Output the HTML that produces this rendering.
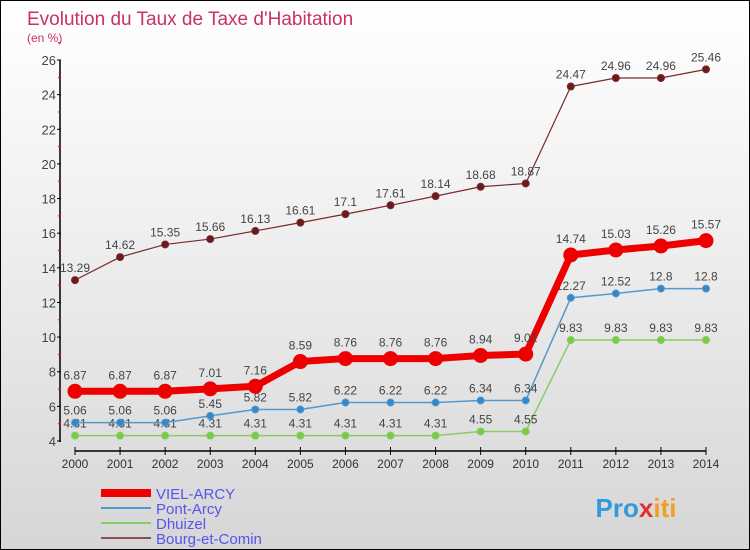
<!DOCTYPE html>
<html><head><meta charset="utf-8"><style>
body{margin:0}
#c{position:relative;width:748px;height:548px;border:1px solid #000;background:linear-gradient(#ffffff,#f0f0f0 40%,#d6d6d6);font-family:"Liberation Sans",sans-serif;overflow:hidden}
</style></head><body>
<div id="c">
<svg id="s" width="748" height="548" xmlns="http://www.w3.org/2000/svg"></svg>
</div>
<script>
const years=[2000,2001,2002,2003,2004,2005,2006,2007,2008,2009,2010,2011,2012,2013,2014];
const vielArcy=[6.87,6.87,6.87,7.01,7.16,8.59,8.76,8.76,8.76,8.94,9.02,14.74,15.03,15.26,15.57];
const pontArcy=[5.06,5.06,5.06,5.45,5.82,5.82,6.22,6.22,6.22,6.34,6.34,12.27,12.52,12.8,12.8];
const dhuizel=[4.31,4.31,4.31,4.31,4.31,4.31,4.31,4.31,4.31,4.55,4.55,9.83,9.83,9.83,9.83];
const bourg=[13.29,14.62,15.35,15.66,16.13,16.61,17.1,17.61,18.14,18.68,18.87,24.47,24.96,24.96,25.46];
const yTicks=[4,6,8,10,12,14,16,18,20,22,24,26];
const seriesNames=["VIEL-ARCY","Pont-Arcy","Dhuizel","Bourg-et-Comin"];

const NS="http://www.w3.org/2000/svg";
const s=document.getElementById('s');
function X(i){return 74+i*(631/(years.length-1));}
function Y(v){return 440-(v-4)*(381/22);}
function el(t,a,p){const e=document.createElementNS(NS,t);for(const k in a)e.setAttribute(k,a[k]);(p||s).appendChild(e);return e;}
function tx(x,y,str,size,fill,anchor){const e=el('text',{x:x,y:y,'font-size':size,fill:fill,'text-anchor':anchor||'middle'});e.textContent=str;return e;}

let t=tx(26,24,"Evolution du Taux de Taxe d'Habitation",19,"#c8325f","start");

t=tx(26,41,"(en %)",12,"#c8325f","start");


// y axis
let ya=el('line',{x1:59,y1:59,x2:59,y2:441,stroke:'#000','stroke-width':1.5});

yTicks.forEach(v=>{
  let l=el('line',{x1:56,y1:Y(v),x2:60,y2:Y(v),stroke:'#000'});
  
  let m=el('line',{x1:57,y1:Y(v+1),x2:60,y2:Y(v+1),stroke:'#e00'});
  
  let tt=tx(55,Y(v)+5,String(v),13,"#444","end");
  
});
// x axis
let xa=el('line',{x1:X(0),y1:450,x2:X(years.length-1),y2:450,stroke:'#000','stroke-width':1.5});

years.forEach((yv,i)=>{
  let l=el('line',{x1:X(i),y1:446,x2:X(i),y2:454,stroke:'#000'});
  
  let tt=tx(X(i),467,String(yv),12,"#333");
  
});

function series(data,color,w,r,dot,name,lblDy){
  const g=el('g',{});
  
  const pl=el('polyline',{points:data.map((v,i)=>X(i)+','+Y(v)).join(' '),fill:'none',stroke:color,'stroke-width':w,'stroke-linejoin':'round'},g);
  
  data.forEach((v,i)=>{
    const c=el('circle',{cx:X(i),cy:Y(v),r:r,fill:dot,stroke:color,'stroke-width':1},g);
    
    const lt=tx(X(i),Y(v)+lblDy,String(v),12,"#444");g.appendChild(lt);
    
  });
}
series(bourg,'#7a2a2a',1.2,3.5,'#6a1c1c','bourg-et-comin',-8);
series(dhuizel,'#88cc66',1.5,3.5,'#77cc44','dhuizel',-8);
series(pontArcy,'#5599cc',1.5,3.5,'#3388cc','pont-arcy',-8);
series(vielArcy,'#ee0000',7,7,'#ee0000','viel-arcy',-12);

// legend
const lc=['#ee0000','#5599cc','#88cc66','#8a5050'],lw=[8,2,2,2];
seriesNames.forEach((n,i)=>{
  const y=492+i*15;
  const l=el('line',{x1:100,y1:y,x2:150,y2:y,stroke:lc[i],'stroke-width':lw[i]});
  
  const tt=tx(155,y+6,n,15,"#5555ee","start");
  
});
// logo
const logo=el('text',{x:635,y:516,'font-size':26,'font-weight':'bold','text-anchor':'middle',fill:'#f0a020','font-family':'Liberation Sans, sans-serif'});

logo.innerHTML='<tspan fill="#3399dd">Pro</tspan><tspan fill="#e03030">x</tspan><tspan fill="#f0a020">iti</tspan>';
</script>
</body></html>
